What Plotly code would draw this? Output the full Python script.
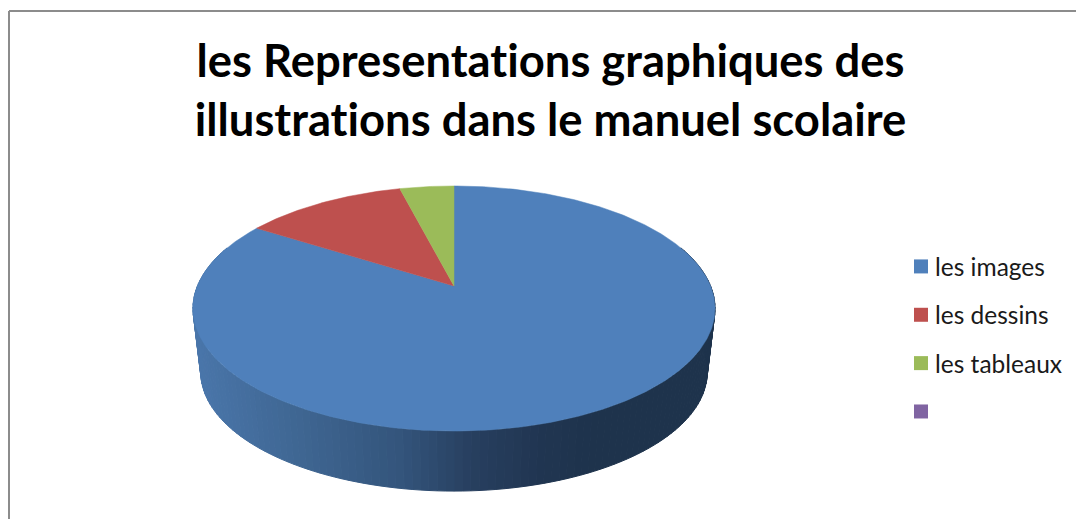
import numpy as np
import plotly.graph_objects as go

CATEGORIES = ["les images", "les dessins", "les tableaux", " "]
VALUES = [84, 12, 4, 0]
COLORS = ["#4F80BB", "#BE504E", "#9BBB59", "#8064A2"]
TITLE = "les Representations graphiques des<br>illustrations dans le manuel scolaire"

W, H = 1076, 519
CX, TIP_Y = 454, 286
RX, RY, K = 256.6, 118.4, 0.1837
BOTTOM_SCALE, BOTTOM_Y = 0.97, 350.4


def project(theta, r=1.0, scale=1.0, cy=TIP_Y):
    """theta: radians clockwise from north, on the unit disc, to perspective view."""
    x, y = r * np.sin(theta), r * np.cos(theta)
    w = 1 + K * y
    return CX + scale * RX * x / w, cy - scale * RY * y / w


def wall_color(x):
    xs = [195, 300, 400, 470, 540, 600, 715]
    rs = [74, 63, 52, 40, 33, 30, 30]
    gs = [118, 102, 85, 64, 54, 51, 51]
    bs = [170, 146, 124, 96, 82, 76, 76]
    return "rgb(%d,%d,%d)" % (np.interp(x, xs, rs), np.interp(x, xs, gs), np.interp(x, xs, bs))


fig = go.Figure()

# side wall, drawn as thin strips along the front of the largest slice
edges = np.linspace(np.radians(70), np.radians(290), 141)
for a, b in zip(edges[:-1], edges[1:]):
    ta = np.array([a, b])
    xt, yt = project(ta)
    xb, yb = project(ta, scale=BOTTOM_SCALE, cy=BOTTOM_Y)
    c = wall_color(xt.mean())
    fig.add_trace(go.Scatter(
        x=[xt[0], xt[1], xb[1], xb[0], xt[0]], y=[yt[0], yt[1], yb[1], yb[0], yt[0]],
        mode="lines", fill="toself", fillcolor=c, line=dict(color=c, width=1),
        hoverinfo="skip", showlegend=False))

# top face: slices clockwise from north
total = sum(VALUES)
start = 0.0
for name, value, color in zip(CATEGORIES, VALUES, COLORS):
    if value > 0:
        sweep = 2 * np.pi * value / total
        t = np.linspace(start, start + sweep, max(int(value * 6), 12))
        xs, ys = project(t)
        fig.add_trace(go.Scatter(
            x=[CX, *xs, CX], y=[TIP_Y, *ys, TIP_Y], mode="lines", fill="toself",
            fillcolor=color, line=dict(color=color, width=0.5), name=name,
            hovertemplate=f"{name}: {value}%<extra></extra>", showlegend=False))
        start += sweep

# legend entries
for name, color in zip(CATEGORIES, COLORS):
    fig.add_trace(go.Scatter(
        x=[None], y=[None], mode="markers", name=name, legendgroup=name,
        marker=dict(symbol="square", size=14, color=color)))

fig.update_layout(
    width=W, height=H, autosize=False, margin=dict(l=0, r=0, t=0, b=0),
    paper_bgcolor="white", plot_bgcolor="white",
    title=dict(text=TITLE, x=550.5 / W, xanchor="center", y=1 - 77 / H, yanchor="middle",
               font=dict(family="Lato", size=45.4, color="#000000", weight="bold")),
    xaxis=dict(range=[0, W], visible=False, fixedrange=True),
    yaxis=dict(range=[H, 0], visible=False, fixedrange=True),
    legend=dict(x=901 / W, xanchor="left", y=1 - 244 / H, yanchor="top",
                font=dict(family="Lato", size=24.5, color="#1a1a1a"),
                tracegroupgap=13.5, itemclick=False, itemdoubleclick=False,
                bgcolor="rgba(0,0,0,0)"),
    shapes=[
        dict(type="line", xref="x", yref="y", x0=9, x1=W, y0=11, y1=11,
             line=dict(color="#8c8c8c", width=2)),
        dict(type="line", xref="x", yref="y", x0=9, x1=9, y0=11, y1=H,
             line=dict(color="#8c8c8c", width=2)),
    ],
)
POST = """
document.body.style.margin = '0';
document.documentElement.style.overflow = 'hidden';
var s = document.createElement('style');
s.textContent = 'svg text, svg tspan{font-variant-ligatures:none !important; font-feature-settings:"liga" 0 !important}'
  + ' .legendtext{transform:translateX(-6px)}';
document.head.appendChild(s);
"""
fig.write_html("out.html", config=dict(displayModeBar=False), post_script=POST)
